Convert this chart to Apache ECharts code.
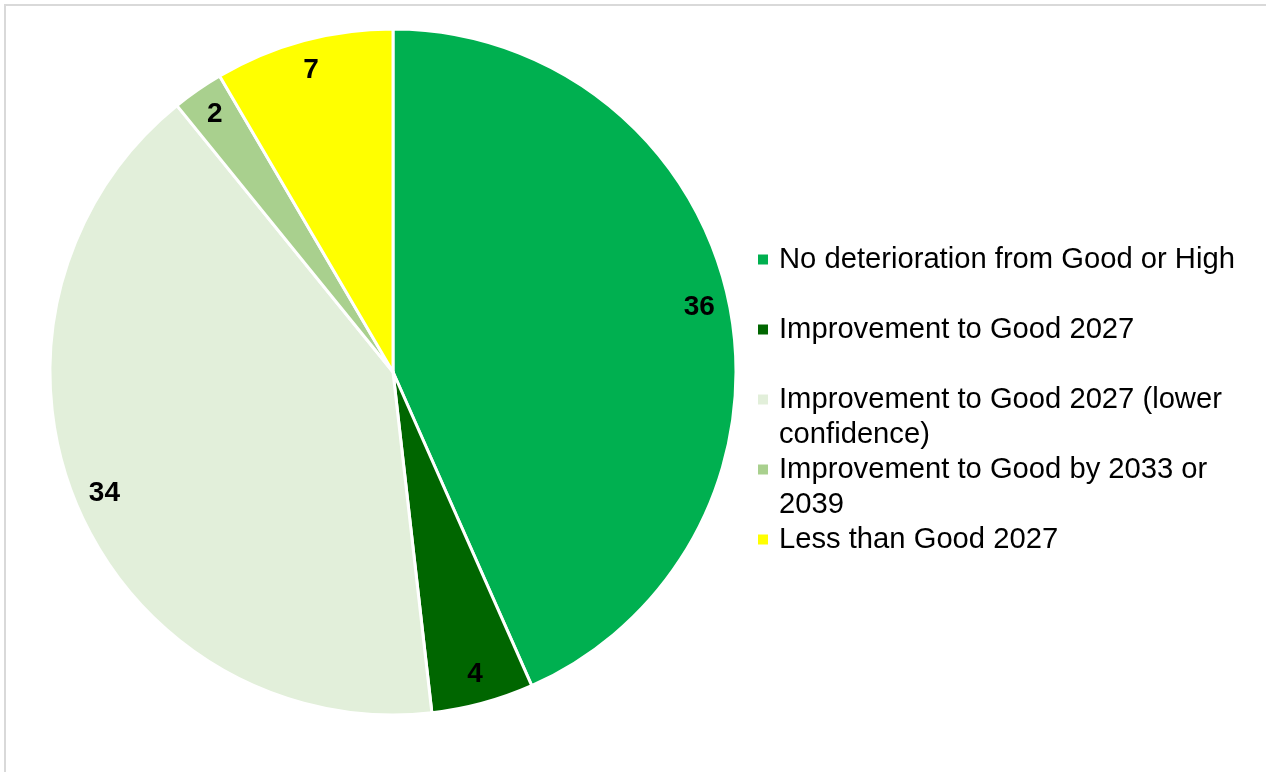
<!DOCTYPE html>
<html>
<head>
<meta charset="utf-8">
<script src="https://cdn.jsdelivr.net/npm/echarts@6/dist/echarts.min.js"></script>
<style>
  html, body { margin: 0; padding: 0; background: #ffffff; overflow: hidden; }
  #frame {
    position: absolute; left: 4px; top: 4px; width: 1400px; height: 900px;
    border-left: 2px solid #d9d9d9; border-top: 2px solid #d9d9d9;
    pointer-events: none;
  }
  #chart { position: absolute; left: 0; top: 0; width: 1266px; height: 772px; }
</style>
</head>
<body>
<div id="frame"></div>
<div id="chart"></div>
<script>
// Waterbody objectives breakdown
const categories = [
  'No deterioration from Good or High',
  'Improvement to Good 2027',
  'Improvement to Good 2027 (lower confidence)',
  'Improvement to Good by 2033 or 2039',
  'Less than Good 2027'
];
const values = [36, 4, 34, 2, 7];
const colors = ['#00B050', '#006600', '#E2EFDA', '#A9D08E', '#FFFF00'];
// Legend text as wrapped in the key
const legendLabels = [
  'No deterioration from Good or High',
  'Improvement to Good 2027',
  'Improvement to Good 2027 (lower\nconfidence)',
  'Improvement to Good by 2033 or\n2039',
  'Less than Good 2027'
];

const FONT = '"Liberation Sans", Arial, sans-serif';
const chart = echarts.init(document.getElementById('chart'), null, { renderer: 'canvas' });

const pieData = categories.map((name, i) => ({
  name: name,
  value: values[i],
  itemStyle: { color: colors[i] }
}));

chart.setOption({
  animation: false,
  legend: {
    orient: 'vertical',
    left: 756,
    top: 207,
    padding: 0,
    itemGap: -35,
    itemWidth: 12,
    itemHeight: 12,
    icon: 'rect',
    selectedMode: false,
    data: categories,
    formatter: function (name) {
      const label = legendLabels[categories.indexOf(name)];
      // a blank first line keeps the swatch level with the first text line
      return label.indexOf('\n') >= 0 ? '\n' + label : '\n' + label + '\n';
    },
    textStyle: {
      fontFamily: FONT,
      fontSize: 29.2,
      lineHeight: 35,
      color: '#000000',
      padding: [0, 0, 0, 5]
    }
  },
  series: [
    {
      type: 'pie',
      center: [393, 372],
      radius: [0, 343],
      startAngle: 90,
      clockwise: true,
      silent: true,
      itemStyle: { borderColor: '#ffffff', borderWidth: 3 },
      label: { show: false },
      labelLine: { show: false },
      data: pieData
    },
    {
      // value labels sit near the outer edge of each slice
      type: 'pie',
      center: [393, 372],
      radius: [278, 342],
      startAngle: 90,
      clockwise: true,
      silent: true,
      legendHoverLink: false,
      itemStyle: { color: 'rgba(0,0,0,0)', borderWidth: 0 },
      label: {
        show: true,
        position: 'inside',
        formatter: '{c}',
        fontFamily: FONT,
        fontWeight: 'bold',
        fontSize: 28,
        color: '#000000'
      },
      labelLine: { show: false },
      data: categories.map((name, i) => ({ name: name, value: values[i] }))
    }
  ]
});
</script>
</body>
</html>
